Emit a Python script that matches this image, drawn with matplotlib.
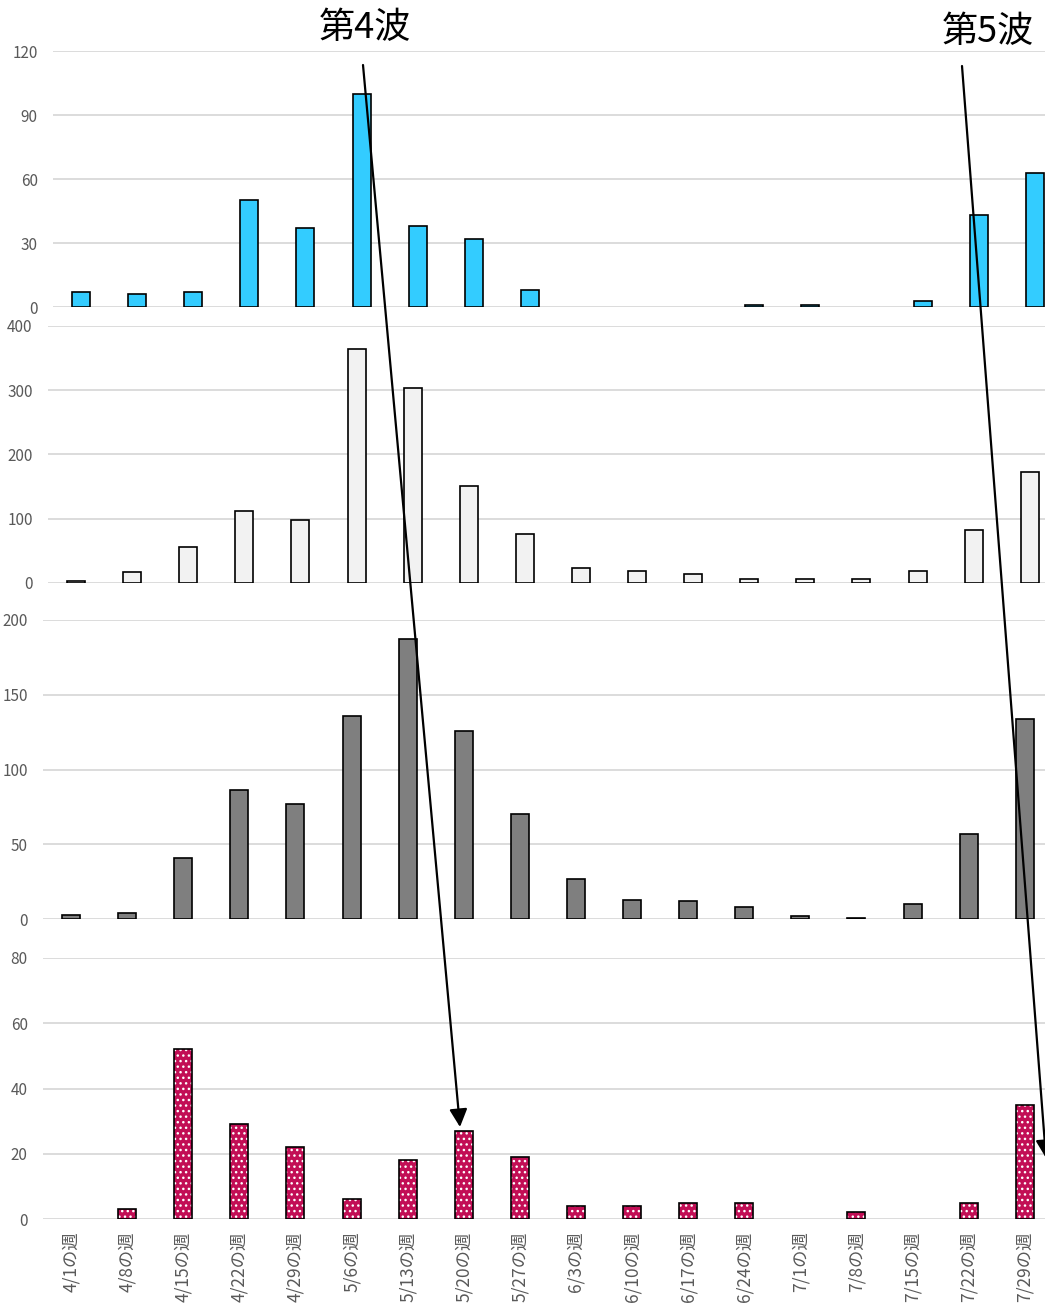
import numpy as np
import matplotlib
matplotlib.use('Agg')
import matplotlib.pyplot as plt

plt.rcParams['font.family'] = ['Noto Sans CJK JP', 'DejaVu Sans']
plt.rcParams['hatch.linewidth'] = 1.0

# weekly categories
weeks = ['4/1', '4/8', '4/15', '4/22', '4/29', '5/6', '5/13', '5/20', '5/27',
         '6/3', '6/10', '6/17', '6/24', '7/1', '7/8', '7/15', '7/22', '7/29']
week_labels = [w + 'の週' for w in weeks]

# values (top to bottom)
panel1 = [7, 6, 7, 50, 37, 100, 38, 32, 8, 0, 0, 0, 1, 1, 0, 3, 43, 63]
panel2 = [3, 17, 56, 112, 98, 364, 303, 151, 77, 23, 19, 14, 6, 6, 7, 19, 83, 173]
panel3 = [3, 4, 41, 86, 77, 136, 187, 126, 70, 27, 13, 12, 8, 2, 1, 10, 57, 134]
panel4 = [0, 3, 52, 29, 22, 6, 18, 27, 19, 4, 4, 5, 5, 0, 2, 0, 5, 35]

W, H = 1045, 1304
fig = plt.figure(figsize=(W / 100, H / 100), dpi=100)


def px_box(left, bottom, top):
    # axes box in pixels -> figure fraction (18 slots of 56.1 px)
    return [left / W, 1 - bottom / H, 18 * 56.1 / W, (bottom - top) / H]


def fx(x, y):
    return (x / W, 1 - y / H)


GRID = '#D9D9D9'
TICK = '#595959'
x = np.arange(len(weeks))


def edge_w(vals):
    # no outline for empty weeks
    return [1.2 if v > 0 else 0 for v in vals]


def setup(ax, ymax, step, show_x=False):
    ax.set_xlim(-0.5, len(weeks) - 0.5)
    ax.set_ylim(0, ymax)
    ax.set_yticks(np.arange(0, ymax + 1, step))
    ax.yaxis.grid(True, color=GRID, lw=1.3)
    ax.set_axisbelow(True)
    for s in ax.spines.values():
        s.set_visible(False)
    ax.tick_params(axis='y', length=0, pad=11, labelsize=11, labelcolor=TICK)
    ax.set_xticks(x)
    if show_x:
        ax.set_xticklabels(week_labels, rotation=90, fontsize=12.5, color=TICK,
                           ha='center', va='top')
        ax.tick_params(axis='x', length=0, pad=9)
    else:
        ax.tick_params(axis='x', length=0, labelbottom=False)


ax1 = fig.add_axes(px_box(53, 307, 51))
ax1.bar(x, panel1, width=0.32, color='#33CCFF', edgecolor='black', lw=edge_w(panel1))
setup(ax1, 120, 30)

ax2 = fig.add_axes(px_box(48, 583, 326))
ax2.bar(x, panel2, width=0.32, color='#F2F2F2', edgecolor='black', lw=edge_w(panel2))
setup(ax2, 400, 100)

ax3 = fig.add_axes(px_box(43, 919, 620))
ax3.bar(x, panel3, width=0.32, color='#7F7F7F', edgecolor='black', lw=edge_w(panel3))
setup(ax3, 200, 50)

ax4 = fig.add_axes(px_box(43, 1219, 958))
# dotted fill first, black outline on top
ax4.bar(x, panel4, width=0.32, color='#C20E55', edgecolor='white', hatch='...', lw=0)
ax4.bar(x, panel4, width=0.32, fill=False, edgecolor='black', lw=edge_w(panel4))
setup(ax4, 80, 20, show_x=True)

# wave annotations
fig.text(*fx(365, 28), '第4波', fontsize=26, ha='center', va='center')
fig.text(*fx(988, 32), '第5波', fontsize=26, ha='center', va='center')
arrow = dict(arrowstyle='-|>,head_length=0.4,head_width=0.2', color='black',
             lw=1.6, mutation_scale=27, shrinkA=0, shrinkB=0)
fig.add_artist(matplotlib.patches.FancyArrowPatch(
    fx(363, 65), fx(460, 1127), transform=fig.transFigure, **arrow))
fig.add_artist(matplotlib.patches.FancyArrowPatch(
    fx(962, 66), fx(1046, 1158), transform=fig.transFigure, **arrow))

fig.savefig('out.png', dpi=100)
